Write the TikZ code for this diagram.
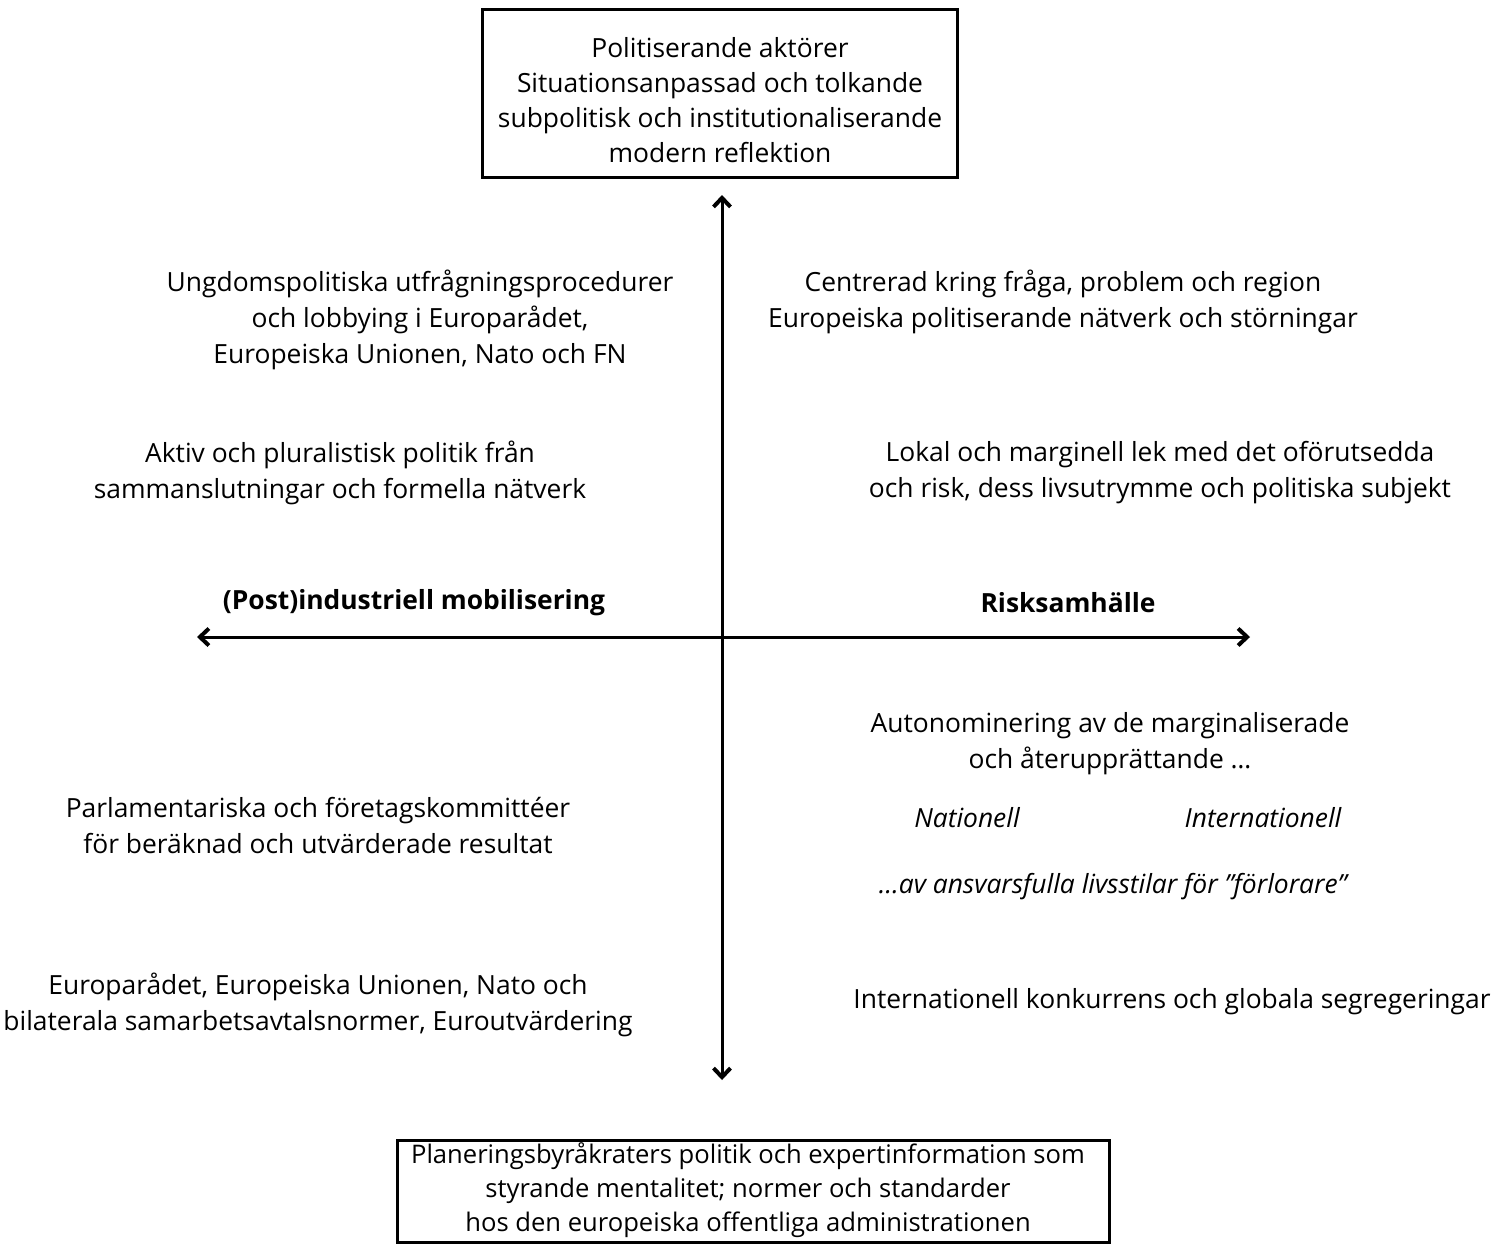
\documentclass[tikz,border=0pt]{standalone}
\usepackage{fontspec}
\setmainfont{Open Sans}
\usetikzlibrary{arrows.meta}
\begin{document}
\begin{tikzpicture}[x=0.5pt,y=-0.5pt,
    txt/.style={align=center,inner sep=0pt,font=\fontsize{13.2}{18}\selectfont},
    boxed/.style={draw,line width=1.5pt,inner sep=0pt},
    barb/.tip={Straight Barb[length=4.5pt,width=8.5pt,line width=2pt]},
    axis/.style={line width=1.5pt,barb-barb}]
  \useasboundingbox (0,0) rectangle (1497,1243);
  % boxes
  \node[boxed,minimum width=237.5pt,minimum height=84pt] (top) at (719.5,93) {};
  \node[txt,font=\fontsize{13.2}{17.5}\selectfont] (toptxt) at (720,100)
    {Politiserande aktörer\\Situationsanpassad och tolkande\\subpolitisk och institutionaliserande\\modern reflektion};
  \node[boxed,minimum width=356pt,minimum height=51pt] (bot) at (753,1191) {};
  \node[txt,font=\fontsize{12.8}{17}\selectfont] (bottxt) at (748,1190)
    {Planeringsbyråkraters politik och expertinformation som\\styrande mentalitet; normer och standarder\\hos den europeiska offentliga administrationen};
  % axes
  \coordinate (vt) at (722,195);
  \coordinate (vb) at (722,1080);
  \coordinate (hl) at (197,637);
  \coordinate (hr) at (1250,637);
  \draw[axis] (vb) -- (vt);
  \draw[axis] (hl) -- (hr);
  \node[txt,font=\fontsize{13.2}{18}\selectfont\bfseries] (post) at (414,603) {(Post)industriell mobilisering};
  \node[txt,font=\fontsize{13.2}{18}\selectfont\bfseries] (risk) at (1068,603) {Risksamhälle};
  % upper left
  \node[txt] (ung) at (420,320) {Ungdomspolitiska utfrågningsprocedurer\\och lobbying i Europarådet,\\Europeiska Unionen, Nato och FN};
  \node[txt] (akt) at (340,473) {Aktiv och pluralistisk politik från\\sammanslutningar och formella nätverk};
  % upper right
  \node[txt] (cen) at (1063,302) {Centrerad kring fråga, problem och region\\Europeiska politiserande nätverk och störningar};
  \node[txt] (lok) at (1160,473) {Lokal och marginell lek med det oförutsedda\\och risk, dess livsutrymme och politiska subjekt};
  % lower right
  \node[txt] (aut) at (1110,744) {Autonominering av de marginaliserade\\och återupprättande \dots};
  \node[txt,font=\fontsize{13.2}{18}\selectfont\itshape] (nat) at (967,818) {Nationell};
  \node[txt,font=\fontsize{13.2}{18}\selectfont\itshape] (int) at (1263,818) {Internationell};
  \node[txt,font=\fontsize{13.2}{18}\selectfont\itshape] (ans) at (1113,887) {\dots av ansvarsfulla livsstilar för ”förlorare”};
  \node[txt] (kon) at (1172,1002) {Internationell konkurrens och globala segregeringar};
  % lower left
  \node[txt] (par) at (318,825) {Parlamentariska och företagskommittéer\\för beräknad och utvärderade resultat};
  \node[txt] (eur) at (318,1005) {Europarådet, Europeiska Unionen, Nato och\\bilaterala samarbetsavtalsnormer, Euroutvärdering};
\end{tikzpicture}
\end{document}
